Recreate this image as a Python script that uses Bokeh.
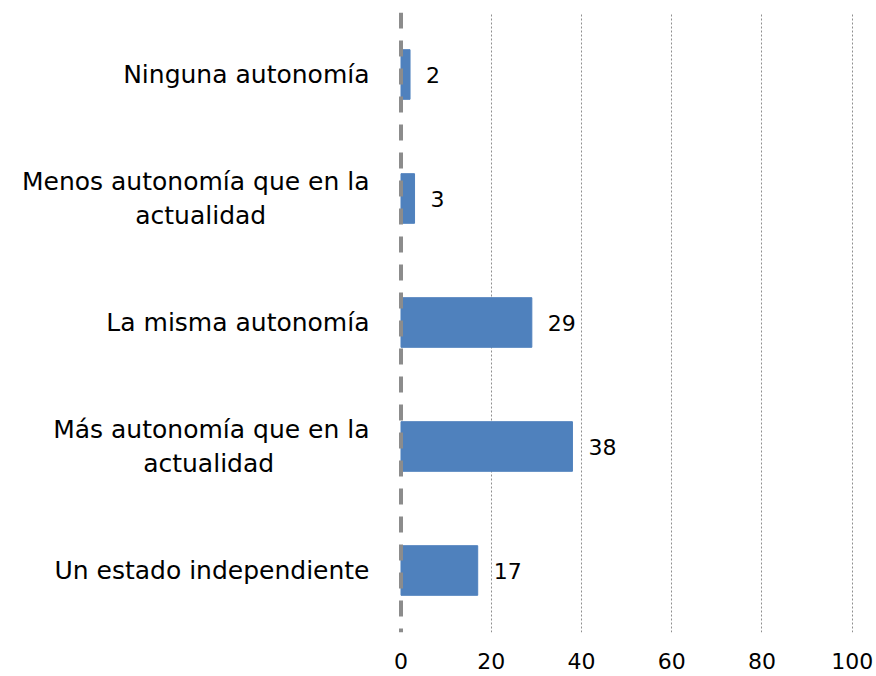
from bokeh.plotting import figure
from bokeh.models import ColumnDataSource, FactorRange, Range1d, FixedTicker, LabelSet, Span
from bokeh.core.properties import value
from bokeh.embed import file_html
from bokeh.resources import INLINE

NB = "\u00a0"
categories = [
    "Ninguna autonomía",
    "Menos autonomía que en la\nactualidad" + NB * 13,
    "La misma autonomía",
    "Más autonomía que en la\nactualidad" + NB * 12,
    "Un estado independiente",
]
values = [2, 3, 29, 38, 17]
x_ticks = [0, 20, 40, 60, 80, 100]

FONT = "DejaVu Sans"

src = ColumnDataSource(dict(cat=categories, val=values, lbl=[str(v) for v in values]))

p = figure(width=876, height=674, output_backend="svg", toolbar_location=None,
           y_range=FactorRange(factors=list(reversed(categories))),
           x_range=Range1d(-1, 100.3),
           min_border_left=396, min_border_top=12, min_border_bottom=42, min_border_right=23)
p.outline_line_color = None
p.background_fill_color = "white"

p.hbar(y="cat", right="val", left=0, height=0.4, source=src,
       fill_color="#4F81BD", line_color="#4F81BD")

p.xaxis.ticker = FixedTicker(ticks=x_ticks)
p.xaxis.axis_line_color = None
p.xaxis.major_tick_line_color = None
p.xaxis.minor_tick_line_color = None
p.xaxis.major_label_standoff = 14
p.xaxis.major_label_text_font = FONT
p.xaxis.major_label_text_font_size = "22px"
p.xaxis.major_label_text_color = "#000000"

p.yaxis.axis_line_color = None
p.yaxis.major_tick_line_color = None
p.yaxis.minor_tick_line_color = None
p.yaxis.major_label_standoff = 21
p.yaxis.major_label_text_font = FONT
p.yaxis.major_label_text_font_size = "25px"
p.yaxis.major_label_text_color = "#000000"

p.ygrid.grid_line_color = None
p.xgrid.ticker = FixedTicker(ticks=[20, 40, 60, 80, 100])
p.xgrid.grid_line_color = "#8f8f8f"
p.xgrid.grid_line_dash = "2 2"
p.xgrid.grid_line_width = 1

zero = Span(location=0, dimension="height", line_color="#8c8c8c",
            line_width=4, line_dash="16 12")
p.add_layout(zero)

lbl_kw = dict(x="val", y="cat", text="lbl", source=src, x_offset=8,
              text_baseline="middle", text_align="left",
              text_font=value(FONT), text_font_size="22px", text_color="#000000",
              background_fill_color="white")
if "padding" in LabelSet.properties():
    lbl_kw["padding"] = 8
else:
    lbl_kw["x_offset"] = 16
labels = LabelSet(**lbl_kw)
p.add_layout(labels)

open("out.html", "w").write(file_html(p, INLINE))
